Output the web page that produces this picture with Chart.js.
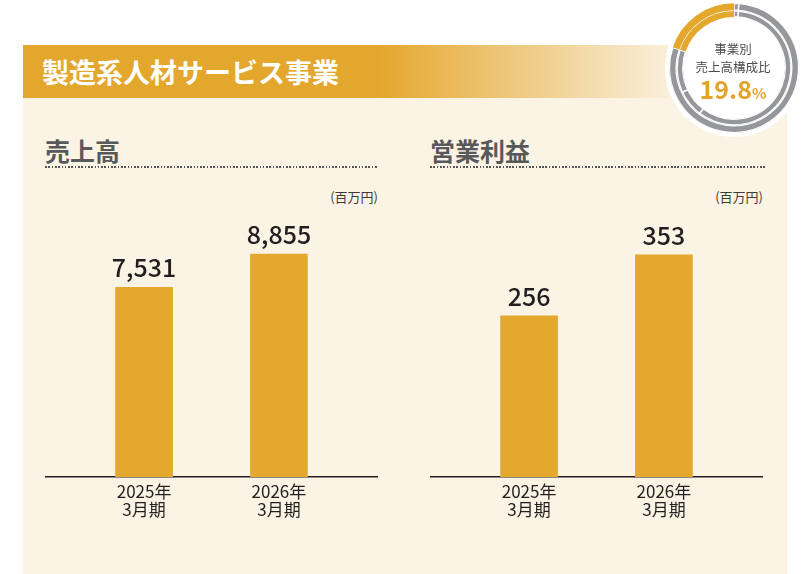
<!DOCTYPE html>
<html><head><meta charset="utf-8">
<script src="https://cdn.jsdelivr.net/npm/chart.js@4"></script>
<style>
html,body{margin:0;padding:0;}
body{width:801px;height:574px;background:#fff;position:relative;overflow:hidden;font-family:"Noto Sans CJK JP","Noto Sans",sans-serif;}
.abs{position:absolute;}
.panel{left:23px;top:45px;width:764px;height:529px;background:#FBF3E4;}
.header{left:23px;top:45px;width:662px;height:53px;background:linear-gradient(to right,#E4A72E 0px,#E4A72E 355px,#FBF3E4 662px);}
.title{left:42px;top:45px;height:53px;line-height:53px;color:#fff;font-weight:700;font-size:27px;white-space:nowrap;}
.sub{top:135px;height:30px;line-height:30px;font-size:25px;font-weight:700;color:#58595B;white-space:nowrap;}
.dots{top:166px;height:1.6px;background:repeating-linear-gradient(to right,#555 0 1.6px,transparent 1.6px 3.3px);}
.unit{top:188px;height:18px;line-height:18px;font-size:13px;color:#3E3A39;white-space:nowrap;text-align:right;width:80px;}
.ring{left:665px;top:-1.5px;width:138px;height:138px;border-radius:50%;background:#fff;}
.dtext{left:683px;width:100px;text-align:center;color:#4D4D4D;font-size:12.5px;white-space:nowrap;}
.pct{left:673px;width:120px;top:74px;text-align:center;color:#E3A42A;font-weight:700;font-size:25px;line-height:28px;white-space:nowrap;}
.pct span{font-size:15px;}
</style></head>
<body>
<div class="abs panel"></div>
<div class="abs header"></div>
<div class="abs title">製造系人材サービス事業</div>

<div class="abs sub" style="left:45px;">売上高</div>
<div class="abs dots" style="left:45px;width:333px;"></div>
<div class="abs unit" style="left:298px;">(百万円)</div>

<div class="abs sub" style="left:430px;">営業利益</div>
<div class="abs dots" style="left:430px;width:335px;"></div>
<div class="abs unit" style="left:683px;">(百万円)</div>

<canvas id="sales" class="abs" width="333" height="327" style="left:45px;top:200px;"></canvas>
<canvas id="profit" class="abs" width="333" height="327" style="left:430px;top:200px;"></canvas>

<div class="abs ring"></div>
<canvas id="share" class="abs" width="130" height="130" style="left:669px;top:2.5px;"></canvas>
<div class="abs dtext" style="top:40px;line-height:18px;">事業別</div>
<div class="abs dtext" style="top:58px;line-height:18px;">売上高構成比</div>
<div class="abs pct" id="pct"></div>

<script>
// ---- data ----
const categories = [['2025年', '3月期'], ['2026年', '3月期']];
const salesValues = [7531, 8855];
const profitValues = [256, 353];
const salesMax = 11000;
const profitMax = 440;
const sharePercent = 19.8;
const shareOuter = [1.2, 79.0, 19.8];
const shareInner = [1.2, 59.1, 7.7, 12.2, 19.8];

// ---- styles ----
const GOLD = '#E5A82F';
const GRAY = '#96979B';
const FONT = '"Noto Sans CJK JP", "Noto Sans", sans-serif';

const valueLabels = {
  id: 'valueLabels',
  afterDatasetsDraw(chart) {
    const ctx = chart.ctx;
    const meta = chart.getDatasetMeta(0);
    const ds = chart.data.datasets[0];
    ctx.save();
    ctx.font = '500 25px ' + FONT;
    ctx.fillStyle = '#231F20';
    ctx.textAlign = 'center';
    ctx.textBaseline = 'alphabetic';
    meta.data.forEach((bar, i) => {
      ctx.fillText(ds.data[i].y.toLocaleString('en-US'), bar.x, bar.y - 10);
    });
    ctx.restore();
  }
};

function barChart(id, values, yMax) {
  new Chart(document.getElementById(id), {
    type: 'bar',
    data: {
      datasets: [{
        data: values.map((v, i) => ({ x: i, y: v })),
        backgroundColor: GOLD,
        barThickness: 57
      }]
    },
    options: {
      responsive: false,
      animation: false,
      devicePixelRatio: 1,
      events: [],
      layout: { padding: 0 },
      plugins: { legend: { display: false }, tooltip: { enabled: false } },
      scales: {
        x: {
          type: 'linear',
          offset: false,
          min: -0.735,
          max: 1.735,
          grid: { display: false, drawTicks: false, offset: false },
          border: { display: true, color: '#231F20', width: 1.5 },
          afterBuildTicks: s => { s.ticks = categories.map((c, i) => ({ value: i })); },
          afterFit: s => { s.height = 50; },
          ticks: {
            padding: 6,
            color: '#231F20',
            autoSkip: false,
            maxRotation: 0,
            font: { family: FONT, size: 17, lineHeight: '18px' },
            callback: v => categories[v]
          }
        },
        y: { display: false, min: 0, max: yMax }
      }
    },
    plugins: [valueLabels]
  });
}

barChart('sales', salesValues, salesMax);
barChart('profit', profitValues, profitMax);

new Chart(document.getElementById('share'), {
  type: 'doughnut',
  data: {
    datasets: [
      {
        data: shareOuter,
        backgroundColor: shareOuter.map((v, i) => i === shareOuter.length - 1 ? GOLD : GRAY),
        borderColor: '#fff',
        borderWidth: shareOuter.map((v, i) => i === shareOuter.length - 1 ? 0 : 0.8),
        borderAlign: 'inner',
        weight: 7
      },
      {
        data: shareInner,
        backgroundColor: shareInner.map((v, i) => i === shareInner.length - 1 ? GOLD : GRAY),
        borderColor: '#fff',
        borderWidth: shareInner.map((v, i) => i === shareInner.length - 1 ? 0 : 0.8),
        borderAlign: 'inner',
        weight: 6
      }
    ]
  },
  options: {
    responsive: false,
    animation: false,
    devicePixelRatio: 1,
    events: [],
    cutout: '78%',
    plugins: { legend: { display: false }, tooltip: { enabled: false } }
  }
});

document.getElementById('pct').innerHTML = sharePercent.toFixed(1) + '<span>%</span>';
</script>
</body></html>
